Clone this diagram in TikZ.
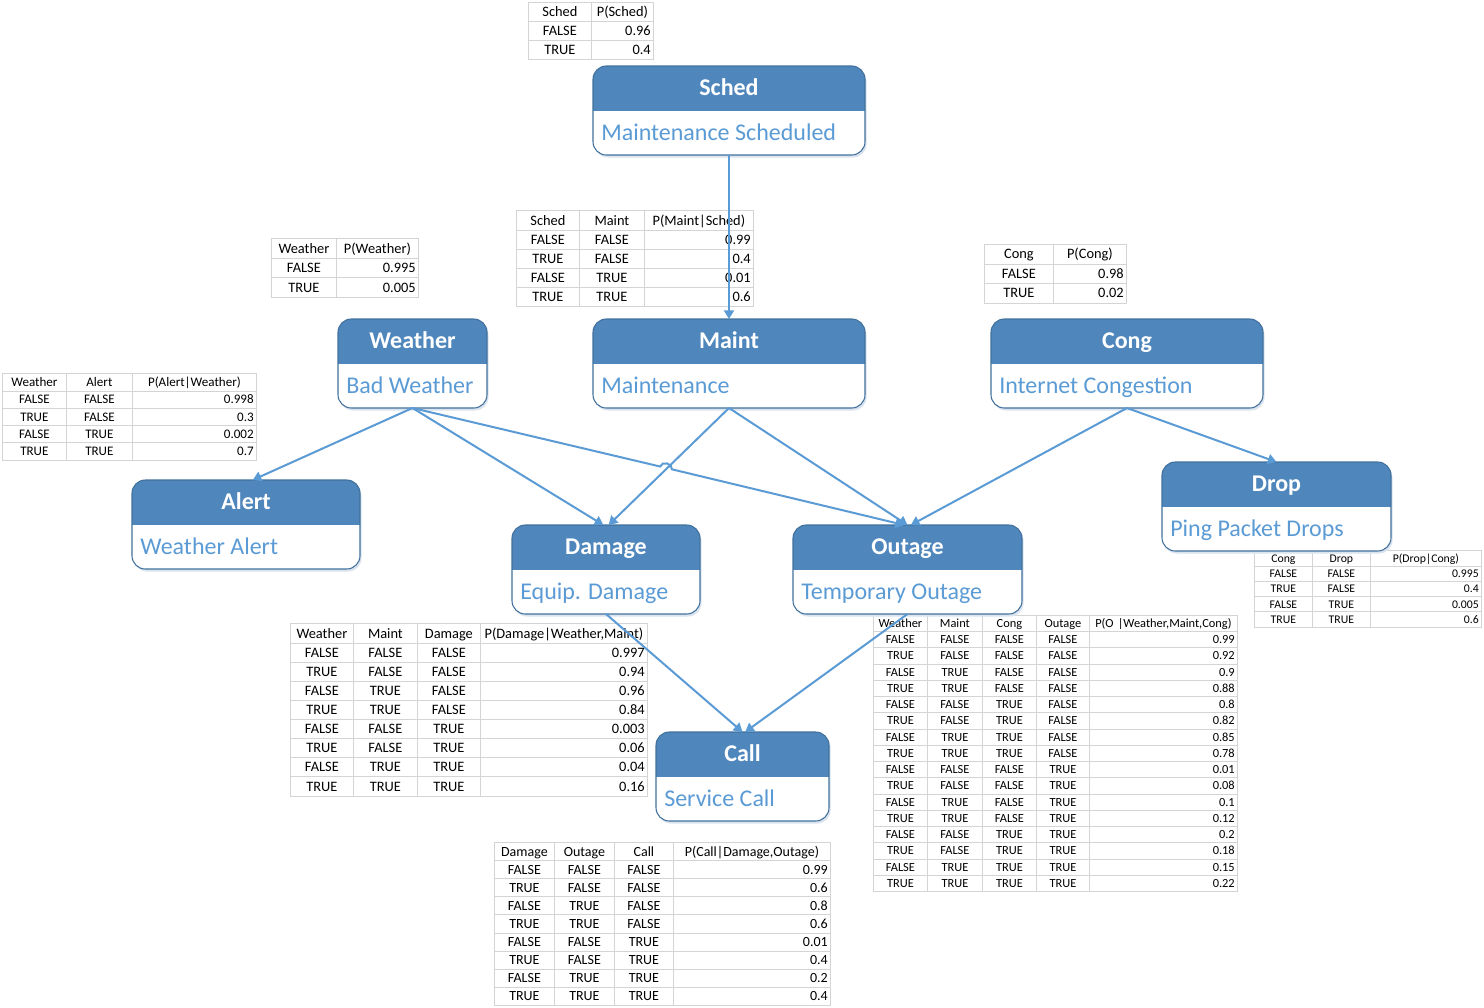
\documentclass[tikz,border=0pt]{standalone}
\usepackage{fontspec}
\setmainfont{Carlito}
\usetikzlibrary{matrix,fit,calc,arrows.meta}
\definecolor{hdrc}{RGB}{79,135,189}
\definecolor{borderc}{RGB}{65,113,156}
\definecolor{subc}{RGB}{91,155,213}
\definecolor{connc}{RGB}{91,155,213}
\definecolor{gridc}{RGB}{212,212,212}
\definecolor{shadowc}{RGB}{218,227,238}
\tikzset{
  tbl/.style={matrix of nodes, anchor=north west, inner sep=0pt, outer sep=0pt,
    column sep=-0.6pt, row sep=-0.6pt,
    nodes={draw=gridc, line width=0.6pt, inner xsep=2pt, inner ysep=0pt, outer sep=0pt, text=black}},
  trow/.style n args={4}{nodes={minimum height=#1*0.75pt, text height=#2, text depth=#3, font=\fontsize{#4}{#4}\selectfont}},
  colw/.code n args={3}{\pgfmathsetmacro\cwtmp{#2*0.75-4}\edef\cwdo{\noexpand\tikzset{column #1/.style={nodes={text width=\cwtmp pt,align=#3}}}}\cwdo},
  hdrrow/.style={row 1/.style={nodes={align=center}}},
  ttl/.style={text=white, font=\bfseries\fontsize{18}{21}\selectfont, inner sep=0pt, anchor=base},
  sub/.style={text=subc, font=\fontsize{18}{21}\selectfont, inner sep=0pt, anchor=base west},
  conn/.style={draw=connc, line width=1.5pt, -{Triangle[width=7.5pt,length=6.5pt]}},
}
\newcommand\bnbox[7]{%
  \fill[shadowc, rounded corners=10pt] (#2+1.5,#3+2.5) rectangle (#4+1.5,#5+2.5);
  \node[fit={(#2,#3)(#4,#5)}, inner sep=0pt, outer sep=0pt] (#1) {};
  \fill[white, rounded corners=10pt] (#2,#3) rectangle (#4,#5);
  \begin{scope}
    \clip (#2-2,#3-2) rectangle (#4+2,#3+44);
    \fill[hdrc, rounded corners=10pt] (#2,#3) rectangle (#4,#5);
  \end{scope}
  \draw[borderc, line width=0.8pt, rounded corners=10pt] (#2,#3) rectangle (#4,#5);
  \node[ttl] (#1-t) at ({(#2+#4)/2},{#3+29.5}) {#6};
  \node[sub] (#1-s) at ({#2+8},{#3+74}) {#7};
}
\begin{document}
\begin{tikzpicture}[x=0.75pt,y=-0.75pt]
\fill[white] (0,0) rectangle (1484,1007);
\useasboundingbox (0,0) rectangle (1484,1007);

% ---------- tables ----------
\matrix (schedT) [tbl, trow={19}{8pt}{1pt}{10.8}, colw={1}{63}{center}, colw={2}{62}{right}, hdrrow] at (528,1.5) {
Sched & P(Sched) \\
FALSE & 0.96 \\
TRUE & 0.4 \\
};
\matrix (maintT) [tbl, trow={19.2}{8pt}{1pt}{10.8}, colw={1}{63}{center}, colw={2}{65}{center}, colw={3}{109}{right}, hdrrow] at (516,210.4) {
Sched & Maint & P(Maint|Sched) \\
FALSE & FALSE & 0.99 \\
TRUE & FALSE & 0.4 \\
FALSE & TRUE & 0.01 \\
TRUE & TRUE & 0.6 \\
};
\matrix (weatherT) [tbl, trow={19.5}{8pt}{1pt}{10.8}, colw={1}{65}{center}, colw={2}{82}{right}, hdrrow] at (271,238.3) {
Weather & P(Weather) \\
FALSE & 0.995 \\
TRUE & 0.005 \\
};
\matrix (congT) [tbl, trow={19.5}{8pt}{1pt}{10.8}, colw={1}{69}{center}, colw={2}{73}{right}, hdrrow] at (984,244) {
Cong & P(Cong) \\
FALSE & 0.98 \\
TRUE & 0.02 \\
};
\matrix (alertT) [tbl, trow={17.25}{7.4pt}{1pt}{9.8}, colw={1}{64}{center}, colw={2}{66}{center}, colw={3}{124}{right}, hdrrow] at (2,373.4) {
Weather & Alert & P(Alert|Weather) \\
FALSE & FALSE & 0.998 \\
TRUE & FALSE & 0.3 \\
FALSE & TRUE & 0.002 \\
TRUE & TRUE & 0.7 \\
};
\matrix (dropT) [tbl, trow={15.25}{6.7pt}{0.9pt}{8.8}, colw={1}{58}{center}, colw={2}{58}{center}, colw={3}{111}{right}, hdrrow] at (1254,550.4) {
Cong & Drop & P(Drop|Cong) \\
FALSE & FALSE & 0.995 \\
TRUE & FALSE & 0.4 \\
FALSE & TRUE & 0.005 \\
TRUE & TRUE & 0.6 \\
};
\matrix (outageT) [tbl, trow={16.25}{7pt}{1pt}{9.3}, colw={1}{54}{center}, colw={2}{55}{center}, colw={3}{54}{center}, colw={4}{53}{center}, colw={5}{148}{right}, hdrrow] at (873,614.9) {
Weather & Maint & Cong & Outage & P(O |Weather,Maint,Cong) \\
FALSE & FALSE & FALSE & FALSE & 0.99 \\
TRUE & FALSE & FALSE & FALSE & 0.92 \\
FALSE & TRUE & FALSE & FALSE & 0.9 \\
TRUE & TRUE & FALSE & FALSE & 0.88 \\
FALSE & FALSE & TRUE & FALSE & 0.8 \\
TRUE & FALSE & TRUE & FALSE & 0.82 \\
FALSE & TRUE & TRUE & FALSE & 0.85 \\
TRUE & TRUE & TRUE & FALSE & 0.78 \\
FALSE & FALSE & FALSE & TRUE & 0.01 \\
TRUE & FALSE & FALSE & TRUE & 0.08 \\
FALSE & TRUE & FALSE & TRUE & 0.1 \\
TRUE & TRUE & FALSE & TRUE & 0.12 \\
FALSE & FALSE & TRUE & TRUE & 0.2 \\
TRUE & FALSE & TRUE & TRUE & 0.18 \\
FALSE & TRUE & TRUE & TRUE & 0.15 \\
TRUE & TRUE & TRUE & TRUE & 0.22 \\
};
\matrix (damageT) [tbl, trow={19.13}{8pt}{1pt}{10.8}, colw={1}{63}{center}, colw={2}{64}{center}, colw={3}{63}{center}, colw={4}{167}{right}, hdrrow] at (290,623.4) {
Weather & Maint & Damage & P(Damage|Weather,Maint) \\
FALSE & FALSE & FALSE & 0.997 \\
TRUE & FALSE & FALSE & 0.94 \\
FALSE & TRUE & FALSE & 0.96 \\
TRUE & TRUE & FALSE & 0.84 \\
FALSE & FALSE & TRUE & 0.003 \\
TRUE & FALSE & TRUE & 0.06 \\
FALSE & TRUE & TRUE & 0.04 \\
TRUE & TRUE & TRUE & 0.16 \\
};
\matrix (callT) [tbl, trow={18.1}{7.8pt}{1pt}{10.5}, colw={1}{60}{center}, colw={2}{60}{center}, colw={3}{59}{center}, colw={4}{157}{right}, hdrrow] at (494,842) {
Damage & Outage & Call & P(Call|Damage,Outage) \\
FALSE & FALSE & FALSE & 0.99 \\
TRUE & FALSE & FALSE & 0.6 \\
FALSE & TRUE & FALSE & 0.8 \\
TRUE & TRUE & FALSE & 0.6 \\
FALSE & FALSE & TRUE & 0.01 \\
TRUE & FALSE & TRUE & 0.4 \\
FALSE & TRUE & TRUE & 0.2 \\
TRUE & TRUE & TRUE & 0.4 \\
};

% ---------- nodes ----------
\bnbox{sched}{593}{66}{865}{155}{Sched}{Maintenance Scheduled}
\bnbox{maint}{593}{319}{865}{408}{Maint}{Maintenance}
\bnbox{weather}{338}{319}{487}{408}{Weather}{Bad Weather}
\bnbox{cong}{991}{319}{1263}{408}{Cong}{Internet Congestion}
\bnbox{alert}{132}{480}{360}{569}{Alert}{Weather Alert}
\bnbox{damage}{512}{525}{700}{614}{Damage}{Equip. Damage}
\bnbox{outage}{793}{525}{1022}{614}{Outage}{Temporary Outage}
\bnbox{drop}{1162}{462}{1391}{551}{Drop}{Ping Packet Drops}
\bnbox{call}{656}{732}{829}{821}{Call}{Service Call}

% ---------- connectors ----------
\draw[conn] (sched.south) -- (maint.north);
\draw[conn] (weather.south) -- ([xshift=5pt]alert.north);
\draw[conn] (weather.south) -- ([xshift=-2pt]damage.north);
\draw[conn] (maint.south) -- ([xshift=2pt]damage.north);
\draw[conn] (maint.south) -- (outage.north);
\draw[conn] (cong.south) -- ([xshift=2.5pt]outage.north);
\draw[conn] (cong.south) -- (drop.north);
\draw[conn] (damage.south) -- (call.north);
\draw[conn] (outage.south) -- ([xshift=2pt]call.north);
\coordinate (hop) at (intersection of weather.south--outage.north and maint.south--damage.north);
\draw[conn] (weather.south) -- ($(hop)!4.5pt!(weather.south)$) to[bend left=90, looseness=1.3] ($(hop)!4.5pt!(outage.north)$) -- ([xshift=-2.5pt]outage.north);
\end{tikzpicture}
\end{document}
